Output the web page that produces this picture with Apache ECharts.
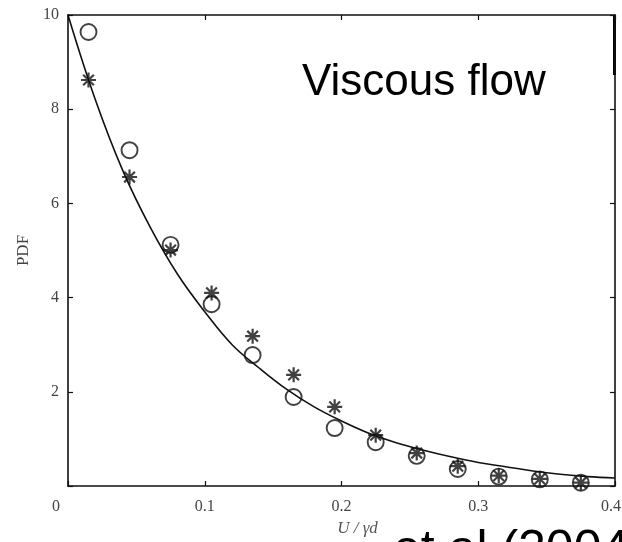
<!DOCTYPE html>
<html>
<head>
<meta charset="utf-8">
<script src="https://cdn.jsdelivr.net/npm/echarts@6/dist/echarts.min.js"></script>
<style>
html,body{margin:0;padding:0;background:#fff;}
#chart{width:622px;height:542px;}
</style>
</head>
<body>
<div id="chart"></div>
<script>
// Bin centres (U / γd)
const binX = [0.015, 0.045, 0.075, 0.105, 0.135, 0.165, 0.195, 0.225, 0.255, 0.285, 0.315, 0.345, 0.375];
// Open circles
const circleY = [9.64, 7.13, 5.12, 3.86, 2.78, 1.89, 1.23, 0.93, 0.64, 0.36, 0.20, 0.14, 0.07];
// Asterisks
const starY = [8.62, 6.56, 5.01, 4.10, 3.18, 2.36, 1.68, 1.08, 0.70, 0.42, 0.22, 0.15, 0.07];
// Solid curve
const curveX = [0, 0.02, 0.04, 0.06, 0.08, 0.10, 0.12, 0.14, 0.16, 0.18, 0.20, 0.22, 0.24, 0.26, 0.28, 0.30, 0.32, 0.34, 0.36, 0.38, 0.40];
const curveY = [10, 8.2, 6.7, 5.5, 4.5, 3.7, 3.0, 2.5, 2.05, 1.68, 1.38, 1.12, 0.92, 0.76, 0.62, 0.50, 0.41, 0.32, 0.25, 0.20, 0.17];
const xTicks = [0, 0.1, 0.2, 0.3, 0.4];
const yTicks = [0, 2, 4, 6, 8, 10];
const titleText = 'Viscous flow';
const sourceText = 'et al (2004)';

const pair = (xs, ys) => xs.map((x, i) => [x, ys[i]]);
const serif = '"Liberation Serif", "DejaVu Serif", serif';
const starPath = 'path://M0,-8L0,8M-8,0L8,0M-5.7,-5.7L5.7,5.7M-5.7,5.7L5.7,-5.7';

const chart = echarts.init(document.getElementById('chart'), null, {renderer: 'canvas'});
const axisCommon = {
  type: 'value',
  axisLine: {show: true, onZero: false, lineStyle: {color: '#111', width: 1.6}},
  axisTick: {show: true, inside: true, length: 5, lineStyle: {color: '#111', width: 1.2}},
  splitLine: {show: false}
};
const xLabel = v => {
  if (v === 0) return '{z|0}';
  if (v === xTicks[xTicks.length - 1]) return '{r|' + v + '}';
  return String(v);
};
chart.setOption({
  animation: false,
  backgroundColor: '#fff',
  grid: {left: 68, right: 7, top: 15, bottom: 56, containLabel: false, outerBoundsMode: 'none'},
  xAxis: [
    Object.assign({}, axisCommon, {
      min: xTicks[0], max: xTicks[xTicks.length - 1], interval: 0.1,
      position: 'bottom',
      name: 'U / γd', nameLocation: 'middle', nameGap: 32,
      nameTextStyle: {fontFamily: serif, fontStyle: 'italic', fontSize: 17, color: '#555', padding: [0, 0, 0, 32]},
      axisLabel: {
        margin: 13, fontFamily: serif, fontSize: 16, color: '#444',
        formatter: xLabel,
        rich: {
          z: {fontFamily: serif, fontSize: 16, color: '#444', padding: [0, 24, 0, 0]},
          r: {fontFamily: serif, fontSize: 16, color: '#444', padding: [0, 8, 0, 0]}
        }
      }
    }),
    Object.assign({}, axisCommon, {
      min: xTicks[0], max: xTicks[xTicks.length - 1], interval: 0.1,
      position: 'top', axisLabel: {show: false}
    })
  ],
  yAxis: [
    Object.assign({}, axisCommon, {
      min: yTicks[0], max: yTicks[yTicks.length - 1], interval: 2,
      position: 'left',
      name: 'PDF', nameLocation: 'middle', nameGap: 31,
      nameTextStyle: {fontFamily: serif, fontSize: 17, color: '#444'},
      axisLabel: {
        margin: 9, fontFamily: serif, fontSize: 16, color: '#444',
        formatter: v => v === 0 ? '' : String(v)
      }
    }),
    Object.assign({}, axisCommon, {
      min: yTicks[0], max: yTicks[yTicks.length - 1], interval: 2,
      position: 'right', axisLabel: {show: false}
    })
  ],
  series: [
    {
      type: 'line', data: pair(curveX, curveY), smooth: 0.4, showSymbol: false,
      lineStyle: {color: '#111', width: 1.6}, z: 2
    },
    {
      type: 'scatter', data: pair(binX, circleY), symbol: 'circle', symbolSize: 16,
      itemStyle: {color: 'rgba(0,0,0,0)', borderColor: '#111', borderWidth: 1.9}, z: 3
    },
    {
      type: 'scatter', data: pair(binX, starY), symbol: starPath, symbolSize: 15,
      itemStyle: {color: 'rgba(0,0,0,0)', borderColor: '#111', borderWidth: 2.2}, z: 4
    }
  ],
  graphic: [
    {type: 'rect', left: 613, top: 15, shape: {width: 3, height: 60}, style: {fill: '#000'}},
    {type: 'text', left: 302, top: 61, style: {text: titleText, font: '44px "Liberation Sans", Arial, sans-serif', fill: '#000'}},
    {type: 'text', left: 393, top: 526, style: {text: sourceText, font: '50px "Liberation Sans", Arial, sans-serif', fill: '#000'}}
  ]
});
</script>
</body>
</html>
